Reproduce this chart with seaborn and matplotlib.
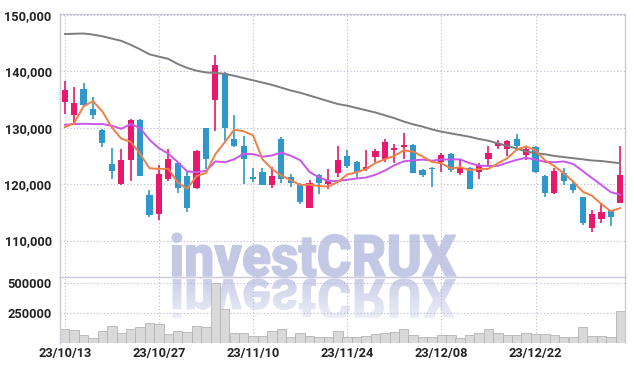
import numpy as np
import pandas as pd
import matplotlib
matplotlib.use("Agg")
import matplotlib.pyplot as plt
import seaborn as sns
from matplotlib.textpath import TextPath
from matplotlib.patches import PathPatch
from matplotlib.font_manager import FontProperties
from matplotlib.transforms import Affine2D

# ---------------- data ----------------
dates = ["23/10/13", "23/10/16", "23/10/17", "23/10/18", "23/10/19", "23/10/20",
         "23/10/23", "23/10/24", "23/10/25", "23/10/26", "23/10/27",
         "23/10/30", "23/10/31", "23/11/01", "23/11/02", "23/11/03",
         "23/11/06", "23/11/07", "23/11/08", "23/11/09", "23/11/10",
         "23/11/13", "23/11/14", "23/11/15", "23/11/16", "23/11/17",
         "23/11/20", "23/11/21", "23/11/22", "23/11/23", "23/11/24",
         "23/11/27", "23/11/28", "23/11/29", "23/11/30", "23/12/01",
         "23/12/04", "23/12/05", "23/12/06", "23/12/07", "23/12/08",
         "23/12/11", "23/12/12", "23/12/13", "23/12/14", "23/12/15",
         "23/12/18", "23/12/19", "23/12/20", "23/12/21", "23/12/22",
         "23/12/26", "23/12/27", "23/12/28", "24/01/02", "24/01/03",
         "24/01/04", "24/01/05", "24/01/08", "24/01/09"]

opens = [134500, 132200, 136900, 133300, 129600, 123600, 120000, 124200, 131400, 118100,
         114700, 120900, 123700, 121500, 119300, 129900, 134900, 139700, 128000, 126800,
         121200, 122100, 119800, 128000, 121200, 120100, 115800, 121700, 120000, 122000,
         125000, 124000, 122700, 124900, 124500, 126000, 126500, 127000, 122500, 122900,
         123900, 125400, 122000, 122800, 122200, 124400, 126700, 126200, 128000, 125200,
         126600, 121400, 118400, 122000, 120100, 117700, 112200, 113800, 115400, 116700]
highs = [138200, 137200, 137900, 135500, 129700, 126400, 126200, 131500, 131500, 119000,
         123400, 126300, 123800, 122200, 126000, 130000, 142800, 139800, 132200, 128500,
         122900, 122900, 123100, 128300, 121800, 120200, 120800, 121800, 122700, 126700,
         126100, 124100, 126100, 126200, 128000, 127100, 129100, 127100, 122700, 123100,
         125500, 125500, 124400, 123100, 123800, 126700, 127900, 127900, 128900, 126500,
         126800, 121600, 122800, 122800, 120500, 117800, 115400, 116500, 115500, 126800]
lows = [132400, 130400, 133800, 131500, 126600, 120900, 119900, 120600, 121500, 114200,
        113700, 120600, 118400, 115000, 119200, 122700, 129500, 127600, 126600, 120100,
        120300, 119800, 119300, 120200, 119500, 116400, 115700, 118300, 119200, 121200,
        122800, 120900, 122400, 124000, 124000, 123700, 124400, 121900, 121200, 119500,
        122200, 122100, 121700, 119100, 120900, 123100, 126200, 125000, 125800, 124300,
        122000, 117800, 118300, 119800, 118500, 112800, 111600, 113100, 112600, 116600]
closes = [136700, 134300, 134100, 132200, 127300, 122400, 124300, 131400, 121500, 114500,
          121800, 124500, 119300, 115700, 125900, 124500, 141200, 129900, 126800, 124400,
          121000, 119900, 121500, 120900, 120200, 116800, 120200, 120200, 120500, 124300,
          123300, 122200, 123100, 125900, 127500, 126400, 127000, 122000, 121700, 122600,
          125200, 122500, 123000, 119200, 123400, 125500, 127300, 127600, 126800, 126200,
          122100, 118400, 122400, 120500, 118900, 113200, 114700, 115000, 114200, 121700]
volumes = [116700, 108000, 66700, 41700, 100000, 141700, 83300, 116700, 133300, 166700,
           158300, 75000, 100000, 91700, 141700, 133300, 505000, 283300, 83300, 83300,
           58300, 58300, 100000, 116700, 50000, 83300, 58300, 50000, 50000, 100000,
           50000, 50000, 58300, 75000, 83300, 91700, 116700, 66700, 50000, 50000,
           66700, 66700, 41700, 66700, 83300, 116700, 83300, 66700, 66700, 83300,
           75000, 75000, 66700, 50000, 50000, 133300, 58300, 58300, 50000, 271700]
ma5 = [130100, 130800, 133800, 134700, 132900, 130060, 128060, 127520, 125380, 122820,
       122700, 122740, 120320, 119160, 121440, 121980, 125320, 127440, 129660, 129360,
       128660, 124400, 122720, 121540, 120700, 119860, 119920, 119660, 119580, 120400,
       121700, 122100, 122680, 123760, 124400, 125020, 125980, 125760, 124920, 123940,
       123700, 122800, 123000, 122500, 122660, 122720, 123680, 124600, 126120, 126680,
       126000, 124220, 123180, 121920, 120460, 118680, 117940, 116460, 115200, 115760]
ma10 = [130500, 130650, 130700, 130650, 130650, 130350, 129800, 130650, 129950, 127870,
        126380, 125400, 123920, 122270, 122130, 122340, 124030, 123880, 124410, 125400,
        125320, 124860, 125080, 125600, 125030, 124260, 122160, 121190, 120560, 120550,
        120780, 121010, 121170, 121670, 122400, 123360, 124040, 124220, 124340, 124170,
        124360, 124390, 124380, 123710, 123300, 123210, 123240, 123800, 124310, 124670,
        124360, 123950, 123890, 124020, 123570, 122340, 121080, 119840, 118580, 118130]
ma60 = [146600, 146650, 146700, 146500, 146200, 145800, 145400, 144700, 143900, 143000,
        142600, 142200, 141300, 140600, 140100, 139800, 139700, 139550, 139200, 138800,
        138400, 138000, 137600, 137100, 136600, 136200, 135700, 135200, 134700, 134200,
        133900, 133500, 133100, 132700, 132200, 131700, 131100, 130600, 130200, 129700,
        129300, 129000, 128700, 128400, 128000, 127700, 127200, 126800, 126300, 125800,
        125500, 125300, 125000, 124800, 124600, 124400, 124200, 124100, 123900, 123700]

price_ticks = [110000, 120000, 130000, 140000, 150000]
volume_ticks = [250000, 500000]
date_tick_idx = [0, 10, 20, 30, 40, 50]

# ---------------- style ----------------
RED = "#e8196c"
BLUE = "#2f97c9"
GRID = "#b9b9d6"
SPINE = "#c9c9dd"
TXT = "#222222"
WM = "#c3c9e5"

sns.set_theme(style="white")
plt.rcParams["font.family"] = ["Liberation Sans Narrow", "Roboto", "DejaVu Sans"]
TICK_FS = 9.2

W, H = 634, 371
fig = plt.figure(figsize=(W / 100, H / 100), dpi=100)
fig.patch.set_facecolor("white")
ax = fig.add_axes([60 / W, (H - 277) / H, 565 / W, 263 / H])
vax = fig.add_axes([60 / W, (H - 343) / H, 565 / W, 66 / H])

df = pd.DataFrame({"idx": np.arange(len(dates)), "date": dates, "open": opens,
                   "high": highs, "low": lows, "close": closes, "volume": volumes,
                   "ma5": ma5, "ma10": ma10, "ma60": ma60})

# ---------------- watermark ----------------
fp = FontProperties(family="Roboto", weight="black")
tp = TextPath((0, 0), "investCRUX", size=1, prop=fp)
bb = tp.get_extents()
sx = 284 / bb.width
sy = 41 / 0.711
base = H - 276
wm_tr = Affine2D().translate(-bb.x0, 0).scale(sx, sy).translate(172, base)
wm = PathPatch(tp, transform=wm_tr, facecolor=WM, edgecolor=WM, linewidth=0.8, zorder=0.5)
ax.add_patch(wm)

ref_tr = Affine2D().translate(-bb.x0, 0).scale(sx, -sy).translate(172, base - 3)
ref = PathPatch(tp, transform=ref_tr, facecolor="none", edgecolor="none")
grad = np.zeros((100, 1, 4))
grad[..., 0] = 0xc3 / 255
grad[..., 1] = 0xc9 / 255
grad[..., 2] = 0xe5 / 255
a = np.linspace(0.9, 0.0, 100)
a[62:] = 0
grad[:, 0, 3] = a
im = vax.imshow(grad, extent=(0, 1, 0, 1), transform=vax.transAxes, aspect="auto",
                zorder=0.5, interpolation="bilinear")
im.set_clip_path(ref)

# ---------------- candles ----------------
x = df["idx"].to_numpy()
o = df["open"].to_numpy()
c = df["close"].to_numpy()
colors = np.where(c >= o, RED, BLUE)
ax.vlines(x, df["low"], df["high"], colors=colors, linewidth=1.2, zorder=3)
body = np.maximum(np.abs(c - o), 200)
ax.bar(x, body, bottom=np.minimum(o, c), width=0.66, color=colors, zorder=4, linewidth=0)

# moving averages
sns.lineplot(data=df, x="idx", y="ma60", ax=ax, color="#7d7d7d", linewidth=1.4, zorder=5)
sns.lineplot(data=df, x="idx", y="ma10", ax=ax, color="#c957ec", linewidth=1.4, zorder=6)
sns.lineplot(data=df, x="idx", y="ma5", ax=ax, color="#ee8048", linewidth=1.4, zorder=7)

# ---------------- volume ----------------
sns.barplot(data=df, x="idx", y="volume", ax=vax, color="#d9d9d9", saturation=1,
            edgecolor="#b3b3b3", linewidth=0.6, width=1.0, zorder=2)

# ---------------- axes formatting ----------------
ax.set_xlim(-0.5, len(dates) - 0.5)
ax.set_ylim(103550, 150150)
vax.set_xlim(-0.5, len(dates) - 0.5)
vax.set_ylim(0, 552500)

for a_ in (ax, vax):
    a_.set_facecolor("none")
    a_.set_xlabel("")
    a_.set_ylabel("")
    a_.set_xticks(date_tick_idx)
    a_.grid(True, linestyle=(0, (1, 2)), color=GRID, linewidth=0.8, zorder=1)
    a_.set_axisbelow(True)
    a_.tick_params(length=0)
    for s in a_.spines.values():
        s.set_color(SPINE)
        s.set_linewidth(1.0)

ax.set_yticks(price_ticks)
ax.set_yticklabels([f"{v:,}" for v in price_ticks], fontsize=TICK_FS, fontweight="bold", color=TXT)
ax.tick_params(axis="y", pad=6)
ax.set_xticklabels([])

vax.set_yticks(volume_ticks)
vax.set_yticklabels([str(v) for v in volume_ticks], fontsize=TICK_FS, fontweight="bold", color=TXT)
vax.tick_params(axis="y", pad=6)
vax.set_xticklabels([dates[i] for i in date_tick_idx], fontsize=TICK_FS, fontweight="bold", color=TXT)
vax.tick_params(axis="x", pad=3)
vax.spines["bottom"].set_visible(False)
vax.spines["top"].set_visible(False)

fig.savefig("out.png", dpi=100)
